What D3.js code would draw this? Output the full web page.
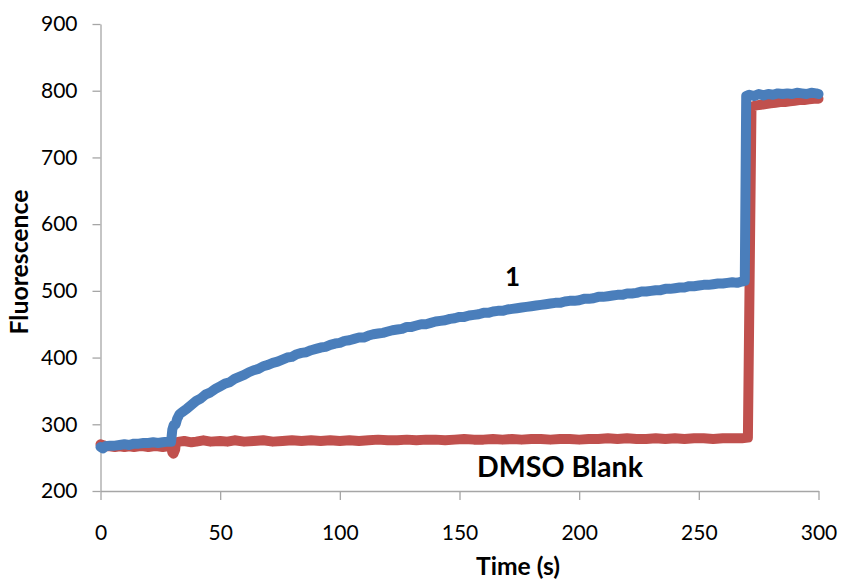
<!DOCTYPE html>
<html>
<head>
<meta charset="utf-8">
<script src="https://cdn.jsdelivr.net/npm/d3@7"></script>
<style>
  html, body { margin: 0; padding: 0; background: #fff; }
  svg { display: block; }
</style>
</head>
<body>
<svg id="chart" width="842" height="582"></svg>
<script>
// ---- data (time in s, fluorescence) ----
const xTicks = [0, 50, 100, 150, 200, 250, 300];
const yTicks = [200, 300, 400, 500, 600, 700, 800, 900];

const seriesNames = ["1", "DMSO Blank"];

const blankData = [
  [0,270],[1,269],[2,267],[4,267],[6,266],[8,267],[10,266],[12,267],[14,266],[16,267],[18,267],[20,266],
  [22,267],[24,267],[26,266],[28,267],[29.5,267],[30,258],[30.5,256],[31.2,262],[31.5,273],[33,274],[35,275],
  [38,273],[40,274],[43,276],[46,274],[50,275],[53,274],[56,276],[60,274],[64,275],[68,276],[72,274],[76,275],
  [80,276],[84,275],[88,276],[92,275],[96,276],[100,275],[104,276],[108,275],[112,276],[116,277],[120,276],
  [124,276],[128,277],[132,276],[136,277],[140,277],[144,276],[148,277],[152,278],[156,277],[160,277],[164,278],
  [168,277],[172,278],[176,277],[180,278],[184,278],[188,277],[192,278],[196,278],[200,277],[204,278],[208,278],
  [212,279],[216,278],[220,279],[224,278],[228,278],[232,279],[236,278],[240,279],[244,278],[248,279],[252,279],
  [256,278],[260,279],[264,279],[268,279],[270.5,280],[272,776],[274,778],[276,779],[278,780],[280,781],
  [282,782],[284,783],[286,783],[288,784],[290,785],[292,786],[294,786],[296,787],[298,788],[300,788]
];

const compoundData = [
  [0,266],[1,264],[2,267],[4,268],[6,268],[8,269],[10,270],[12,269],[14,271],[16,271],[18,272],[20,272],
  [22,273],[24,272],[26,273],[28,274],[29.5,274],[30,292],[30.6,299],[31.4,300],[32,308],[33,315],[34,318],
  [36,323],[38,329],[40,335],[42,339],[44,345],[46,348],[48,353],[50,357],[52,361],[54,363],[56,368],[58,371],
  [60,374],[62,378],[64,381],[66,383],[68,387],[70,389],[72,392],[74,394],[76,397],[78,400],[80,401],[82,405],
  [84,407],[86,408],[88,411],[90,413],[92,415],[94,416],[96,419],[98,421],[100,422],[102,425],[104,426],
  [106,428],[108,430],[110,430],[112,433],[114,435],[116,436],[118,437],[120,439],[122,441],[124,442],[126,443],
  [128,446],[130,446],[132,448],[134,450],[136,450],[138,452],[140,454],[142,455],[144,456],[146,458],[148,459],
  [150,461],[152,461],[154,463],[156,464],[158,465],[160,467],[162,467],[164,469],[166,470],[168,470],[170,472],
  [172,473],[174,474],[176,475],[178,476],[180,477],[182,478],[184,479],[186,480],[188,481],[190,482],[192,482],
  [194,484],[196,485],[198,485],[200,486],[202,488],[204,488],[206,489],[208,491],[210,491],[212,492],[214,493],
  [216,494],[218,494],[220,496],[222,496],[224,497],[226,499],[228,499],[230,500],[232,501],[234,501],[236,503],
  [238,503],[240,504],[242,505],[244,505],[246,507],[248,507],[250,508],[252,509],[254,509],[256,510],[258,511],
  [260,511],[262,512],[264,513],[266,512],[268,514],[269.2,515],[269.8,792],[271,794],[273,792],[275,795],
  [277,793],[279,795],[281,794],[283,796],[285,795],[287,796],[289,795],[291,797],[293,796],[295,795],[297,797],
  [299,796],[300,795]
];

// ---- layout ----
const svg = d3.select("#chart");
const x = d3.scaleLinear().domain([0, 300]).range([100.5, 818.5]);
const y = d3.scaleLinear().domain([200, 900]).range([491, 24]);
const axisColor = "#a6a6a6";
const font = "Lato, 'Open Sans', sans-serif";

// y axis
const yAxis = svg.append("g").attr("transform", `translate(${x(0)},0)`)
  .call(d3.axisLeft(y).tickValues(yTicks).tickSize(8).tickPadding(15).tickSizeOuter(0));
// x axis
const xAxis = svg.append("g").attr("transform", `translate(0,${y(200)})`)
  .call(d3.axisBottom(x).tickValues(xTicks).tickSize(9).tickPadding(25).tickSizeOuter(0));

[yAxis, xAxis].forEach(g => {
  g.select(".domain").attr("stroke", axisColor).attr("stroke-width", 1.3);
  g.selectAll(".tick line").attr("stroke", axisColor).attr("stroke-width", 1.3);
  g.selectAll(".tick text").attr("fill", "#000").style("font-family", font).style("font-size", "21px");
});

// lines
const line = d3.line().x(d => x(d[0])).y(d => y(d[1]));
svg.append("path").datum(blankData)
  .attr("d", line).attr("fill", "none").attr("stroke", "#c0504d")
  .attr("stroke-width", 10).attr("stroke-linejoin", "round").attr("stroke-linecap", "round");
svg.append("path").datum(compoundData)
  .attr("d", line).attr("fill", "none").attr("stroke", "#4a7ebb")
  .attr("stroke-width", 10).attr("stroke-linejoin", "round").attr("stroke-linecap", "round");

// text helpers: fit bold text to a target width
function fitText(sel, targetW) {
  sel.style("font-size", "20px");
  const w = sel.node().getComputedTextLength();
  sel.style("font-size", (20 * targetW / w).toFixed(2) + "px");
  return sel;
}

// series labels
svg.append("text").attr("x", 512.5).attr("y", 286).attr("text-anchor", "middle")
  .style("font-family", font).style("font-weight", "bold").style("font-size", "26px")
  .attr("fill", "#000").text(seriesNames[0]);
fitText(svg.append("text").attr("x", 560).attr("y", 476.5).attr("text-anchor", "middle")
  .style("font-family", font).style("font-weight", "bold").attr("fill", "#000").text(seriesNames[1]), 166);

// axis titles
fitText(svg.append("text").attr("x", 518).attr("y", 575).attr("text-anchor", "middle")
  .style("font-family", font).style("font-weight", "bold").attr("fill", "#000").text("Time (s)"), 84);
fitText(svg.append("text").attr("transform", "translate(28,262) rotate(-90)").attr("text-anchor", "middle")
  .style("font-family", font).style("font-weight", "bold").attr("fill", "#000").text("Fluorescence"), 145);
</script>
</body>
</html>
